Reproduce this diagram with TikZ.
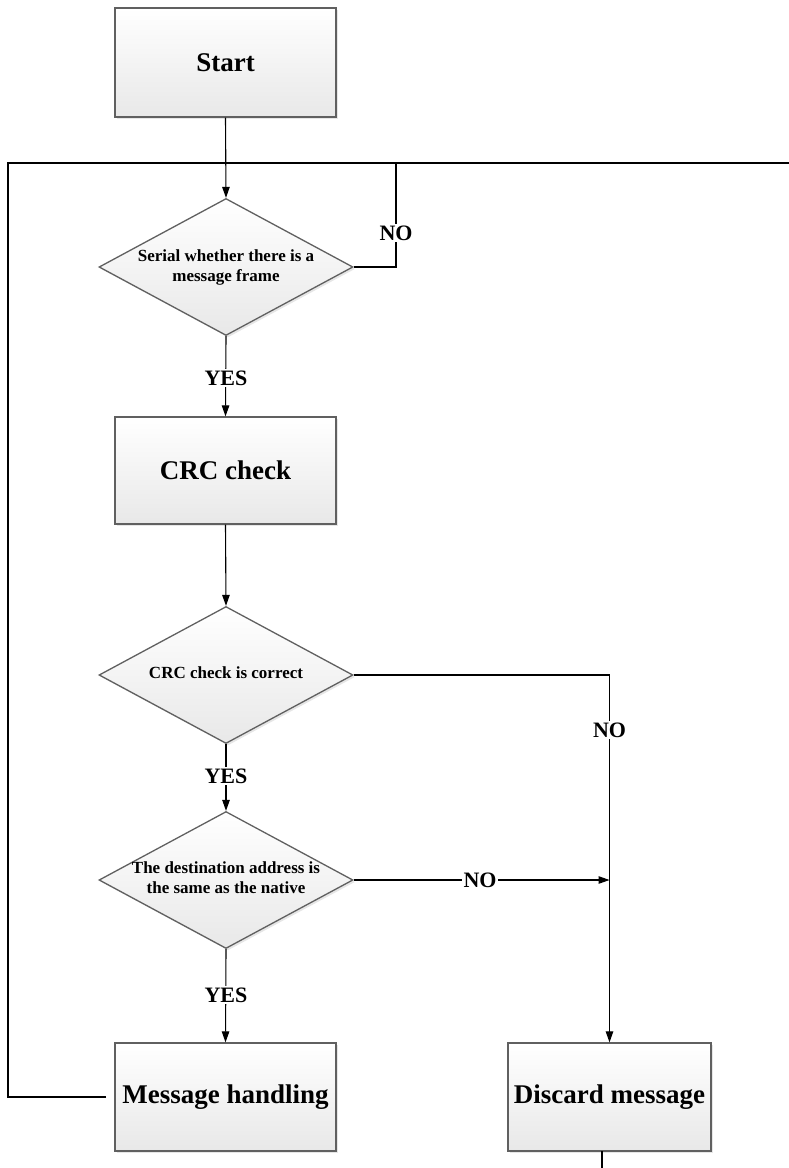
\documentclass[tikz,border=0pt]{standalone}
\usepackage{fontspec}
\setmainfont{Liberation Serif}
\usetikzlibrary{shapes.geometric,arrows.meta,shadows}
\begin{document}
\begin{tikzpicture}[x=1pt,y=-1pt,
  boxstyle/.style={draw=gray!75!black,line width=1.3pt,rectangle,top color=white,bottom color=gray!18,
    drop shadow={opacity=0.2,shadow xshift=2pt,shadow yshift=-2pt},
    font=\bfseries\fontsize{27}{32}\selectfont,inner sep=0pt},
  decstyle/.style={draw=gray!75!black,line width=1.3pt,diamond,top color=white,bottom color=gray!18,
    drop shadow={opacity=0.2,shadow xshift=2pt,shadow yshift=-2pt},
    minimum width=254pt,minimum height=137pt,inner sep=0pt},
  dtext/.style={font=\bfseries\fontsize{17}{20}\selectfont,align=center,inner sep=0pt},
  lbl/.style={font=\bfseries\fontsize{22}{24}\selectfont,fill=white,inner sep=1.5pt},
  conn/.style={line width=1.1pt,black},
  arr/.style={conn,-{Triangle[length=11pt,width=7.5pt]}}]
\useasboundingbox (0,0) rectangle (789,1168);

% nodes
\node[boxstyle,minimum width=221pt,minimum height=109pt] (start) at (225.5,62.5) {Start};
\node[decstyle] (d1) at (226,267) {};
\node[dtext] (d1t) at (226,267) {Serial whether there is a\\message frame};
\node[boxstyle,minimum width=221pt,minimum height=107pt] (crc) at (225.5,470.5) {CRC check};
\node[decstyle] (d2) at (226,675) {};
\node[dtext] (d2t) at (226,673) {CRC check is correct};
\node[decstyle] (d3) at (226,880) {};
\node[dtext] (d3t) at (226,878) {The destination address is\\the same as the native};
\node[boxstyle,minimum width=221pt,minimum height=108pt] (mh) at (225.5,1097) {Message handling};
\node[boxstyle,minimum width=203pt,minimum height=108pt] (dm) at (609.5,1097) {Discard message};

% coordinates
\coordinate (tl) at (8,163);
\coordinate (tr) at (789,163);
\coordinate (bl) at (8,1097);
\coordinate (mhl) at (106,1097);
\coordinate (n1top) at (396,163);
\coordinate (join) at (609.5,880);
\coordinate (dmb) at (602,1151);
\coordinate (dmend) at (602,1168);

% connectors
\draw[conn] (mhl) -- (bl) -- (tl) -- (tr);
\draw[arr] (start.south) -- (d1.north);
\draw[conn] (d1.east) -| (n1top);
\draw[arr] (d1.south) -- (crc.north);
\draw[arr] (crc.south) -- (d2.north);
\draw[arr] (d2.east) -| (dm.north);
\draw[arr] (d2.south) -- (d3.north);
\draw[arr] (d3.east) -- (join);
\draw[arr] (d3.south) -- (mh.north);
\draw[conn] (dmb) -- (dmend);

% labels
\node[lbl] (no1) at (396,233) {NO};
\node[lbl] (yes1) at (226,378) {YES};
\node[lbl] (no2) at (609.5,730) {NO};
\node[lbl] (yes2) at (226,776) {YES};
\node[lbl] (no3) at (480,880) {NO};
\node[lbl] (yes3) at (226,995) {YES};
\end{tikzpicture}
\end{document}
